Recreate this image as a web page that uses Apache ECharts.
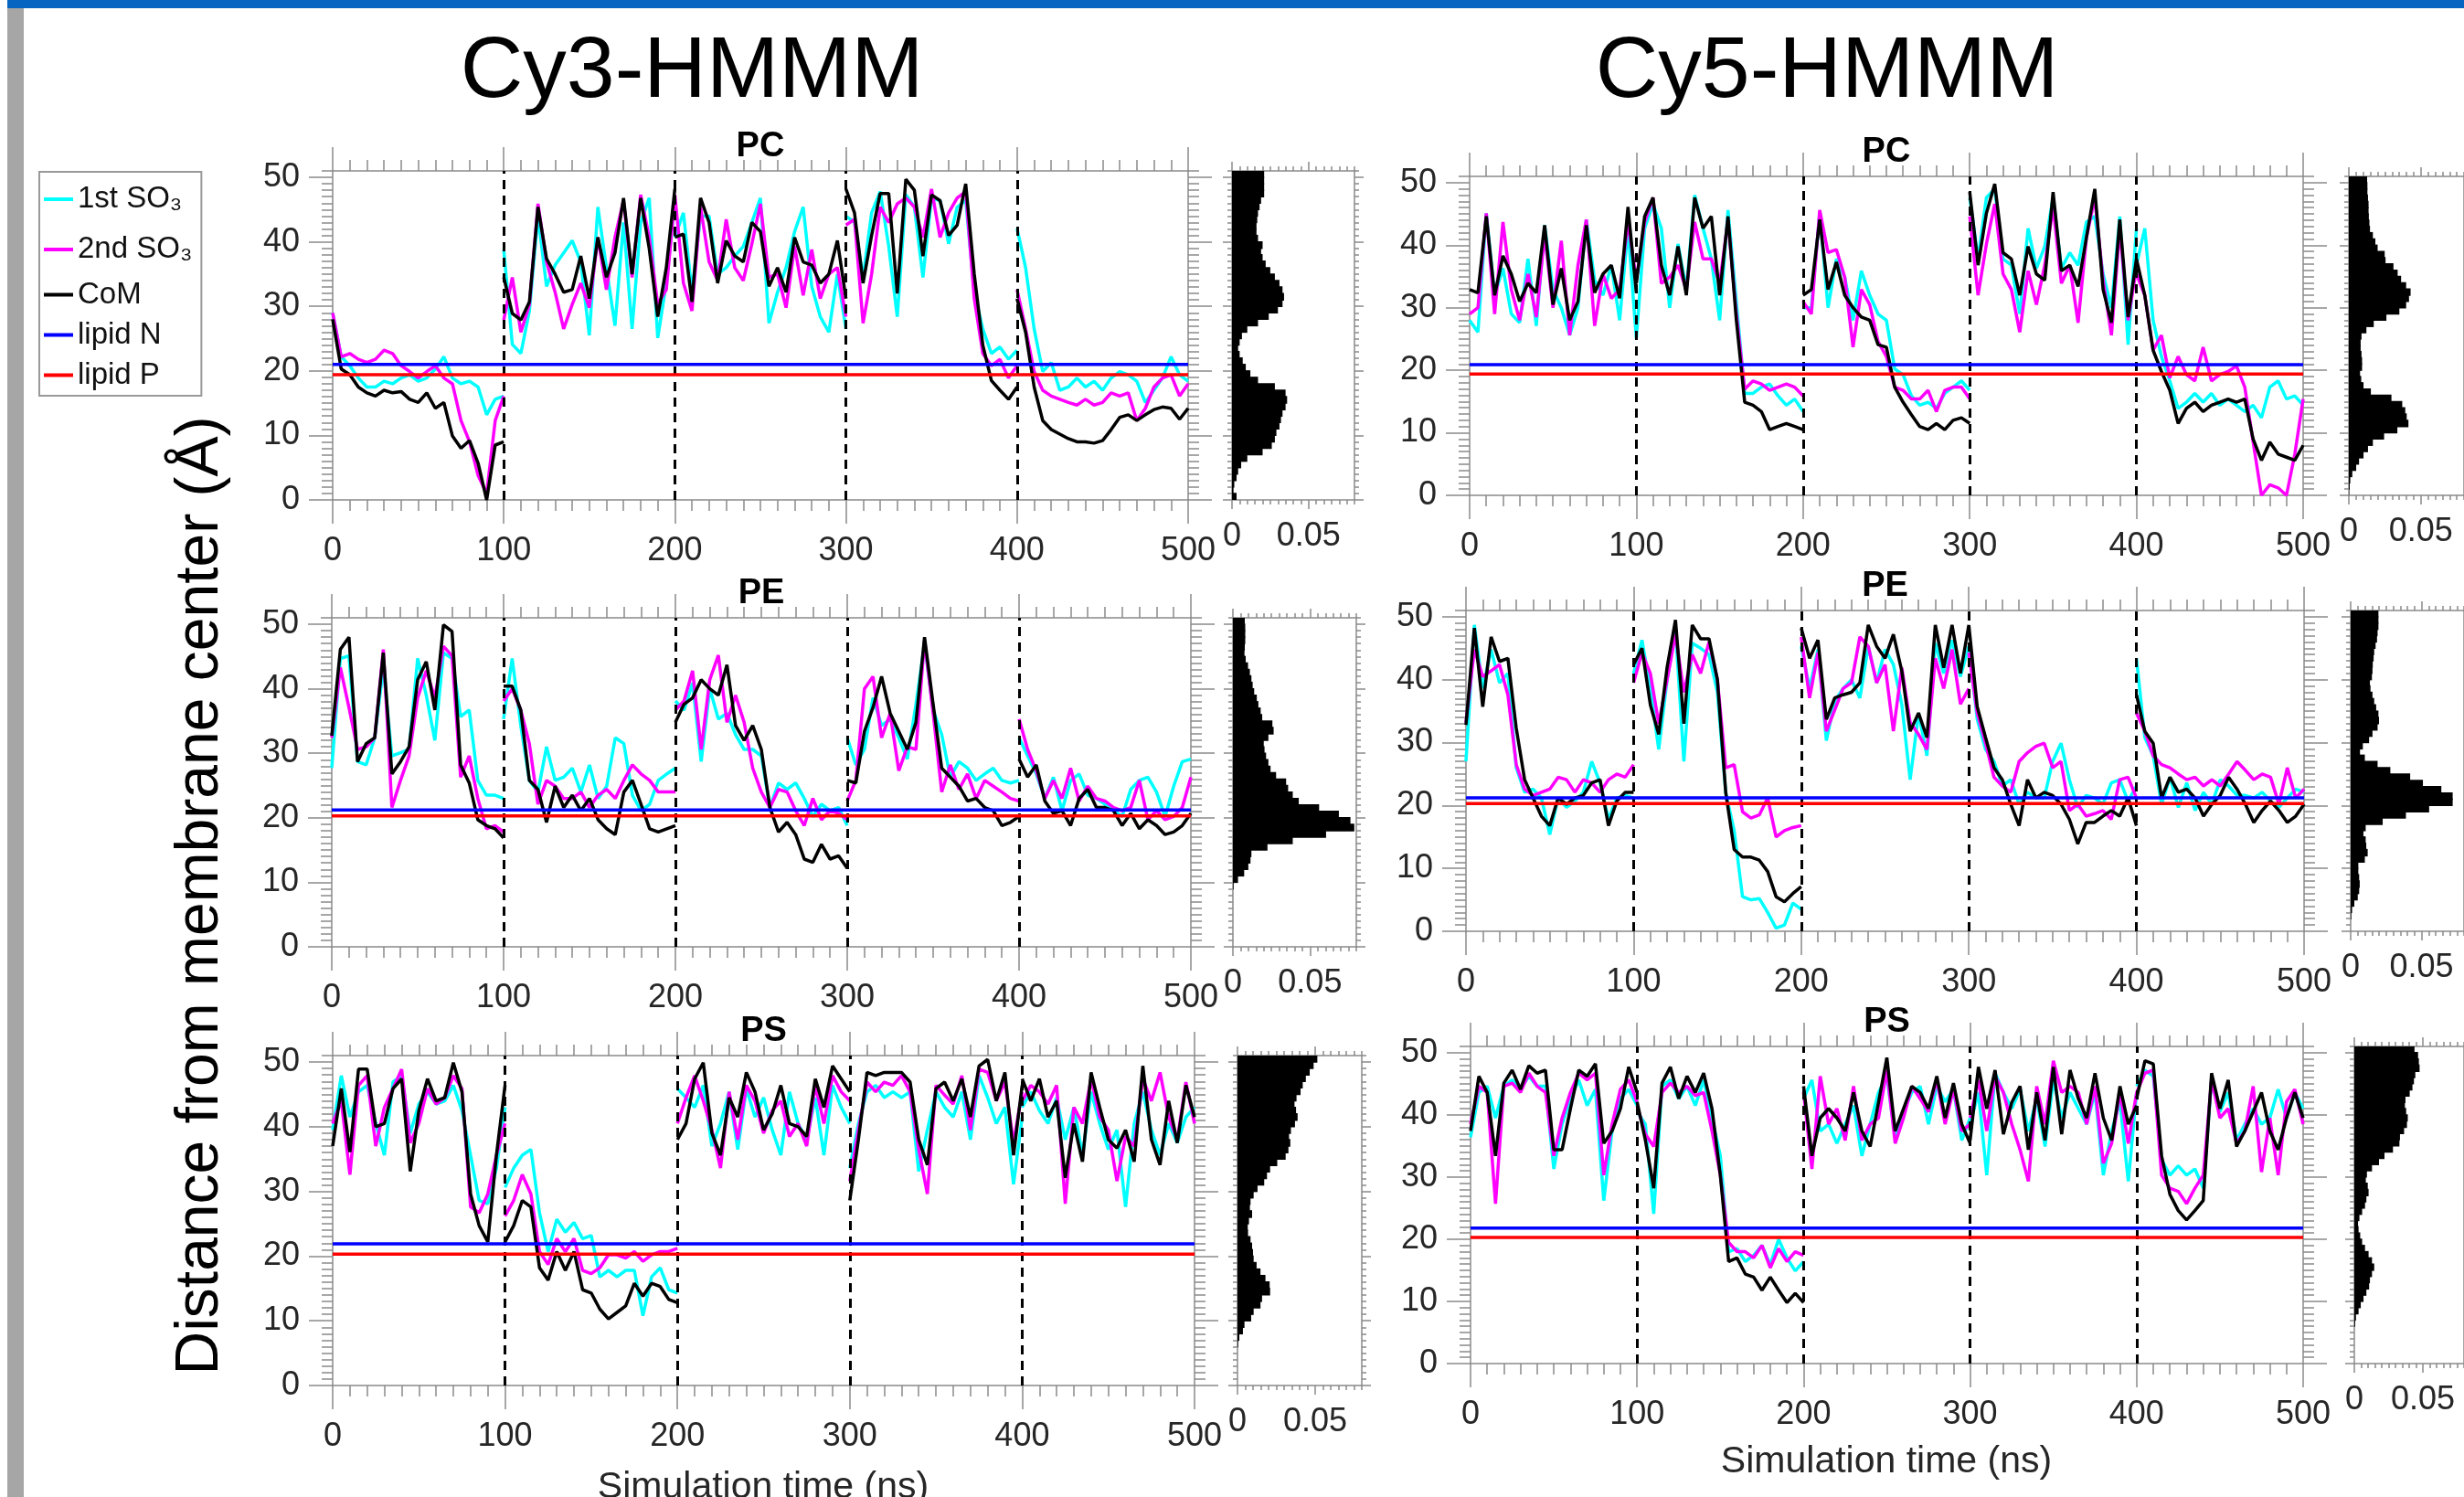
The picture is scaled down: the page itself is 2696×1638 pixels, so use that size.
<!DOCTYPE html>
<html>
<head>
<meta charset="utf-8">
<style>
html, body { margin: 0; padding: 0; background: #fff; }
#chart { width: 2696px; height: 1638px; }
</style>
</head>
<body>
<div id="chart"></div>
<script src="https://cdn.jsdelivr.net/npm/echarts@6/dist/echarts.min.js"></script>
<script>
// five 100 ns runs per membrane, values sampled every 5 ns (Å from membrane center)
var runStarts = [0, 100, 200, 300, 400];
var runStep = 5;
var runBreaks = [100, 200, 300, 400];
var seriesNames = ['1st SO₃', '2nd SO₃', 'CoM', 'lipid N', 'lipid P'];
var yTicks = [0, 10, 20, 30, 40, 50];
var histTicks = [0, 0.05];

// ---- Cy3-HMMM ----
var cy3PC_so1 = [
  [29,22.2,20.8,18.9,17.5,17.5,18.4,18,18.9,19.4,18.4,18.9,20.3,22.2,18.9,18,18.4,17.5,13.2,15.6,16.1],
  [38.8,24.1,22.7,29.3,44,33.1,36.4,38.3,40.2,36.9,25.5,45.4,36,27,43,26.5,43,46.8,25.1,33.6,46.4],
  [40.7,44.5,32.2,44,44,35,36,37.8,39.3,43,46.8,27.4,32.2,36,41.6,45.4,33.1,28.4,26,35,26.5],
  [44,43,34.5,44.5,47.8,39.3,28.4,47.3,45.4,34.5,46.8,46.4,39.7,45.4,46.4,32.2,26.5,22.7,23.7,21.8,23.2],
  [42.1,36,26.5,19.9,21.3,17,17.5,18.9,17.5,18.4,17,18.9,19.9,19.4,18.4,15.1,17,18.9,22.2,19.4,18.4]];
var cy3PC_so2 = [
  [29,22.2,22.7,21.8,21.3,21.8,23.2,22.7,20.8,19.9,18.9,19.9,20.8,18.9,18,12.3,9,3.8,1,12.3,16.1],
  [27.9,34.5,26,30.3,45.9,36.9,32.2,26.5,30.3,33.6,29.8,40.7,32.6,40.7,46.4,34.5,47.3,40.7,30.3,32.6,46.8],
  [47.3,33.6,29.3,45.4,36.9,34,43.5,36,34,39.7,45.9,34.5,35,29.8,39.3,31.7,38.8,31.2,35,36,28.4],
  [42.6,43.5,27.4,35,45.4,43,45.9,46.8,45.4,40.7,48.2,40.7,44.5,46.8,47.8,31.2,22.7,20.8,21.8,18.9,20.8],
  [32.6,26.5,19.9,17,16.1,15.6,15.1,14.7,15.6,14.7,15.1,16.6,16.1,16.6,12.3,14.2,17.5,18.9,19.4,16.1,18]];
var cy3PC_com = [
  [28,20.3,19.4,17.5,16.6,16.1,17,16.6,16.8,15.6,15.1,16.6,14.2,15.1,9.9,8,9.2,5.7,0,8.5,9],
  [34.5,28.9,27.9,30.7,45.4,37.4,35,32.2,32.6,37.8,31.2,40.7,34.5,38.3,46.8,35,46.8,39,28.4,36,48.2],
  [40.7,41.2,30.7,46.8,43,33.6,40.2,37.8,36.9,43,41.6,33.1,36,32.2,40.7,36.9,36.4,33.6,35,40.2,31.2],
  [48.2,44.5,33.6,41,47.5,47.5,32,49.7,48,37.8,47.3,46.4,41,42.6,49,35,24,18.5,17,15.6,17.5],
  [31.2,26,17.5,12.3,10.9,10.2,9.5,9,9,8.8,9.2,10.9,12.8,13.2,12.3,13.2,14,14.4,14.2,12.5,14.2]];

var cy3PE_so1 = [
  [27.7,44.7,45.1,28.7,28.2,32.4,43.3,29.6,30.1,30.6,44.7,39,32,45.6,44.7,35.7,36.7,25.8,23.5,23.5,23],
  [35.3,44.7,34.3,25.8,24,31,25.8,26.3,27.7,24,28.2,23,24.9,32.4,31.5,23.5,21.1,22.1,25.8,26.8,27.7],
  [38.1,36.7,40.9,28.7,40,35.3,36.2,32.9,30.6,30.6,29.6,21.6,25.4,24.4,25.4,23,20.2,22.1,21.1,21.6,18.8],
  [32.4,28.2,30.6,38.6,34.3,35.3,32.4,29.1,37.6,47,36.7,32.9,26.3,28.7,27.7,25.8,26.8,27.7,25.8,25.4,25.8],
  [32.4,29.6,26.8,23,26.3,21.1,25.8,26.8,23.5,23,22.1,21.1,20.2,24.4,25.8,26.3,24,20.2,24.9,28.7,29.1]];
var cy3PE_so2 = [
  [32.4,43.3,37.1,30.6,31,32.4,46.1,21.6,25.8,29.6,38.6,42.8,38.6,46.6,45.1,26.3,29.6,23,18.3,18.8,17.8],
  [38.1,40,36.7,31.5,22.1,25.8,24.9,23,23,24,21.6,23.5,24.4,23,25.8,28.2,26.8,25.8,24,24,24],
  [36.7,38.1,42.8,30.6,41.4,45.2,34.8,39,34.8,27.7,24,21.6,24.4,24,21.1,18.8,23,19.7,21.1,20.7,19.7],
  [22.6,25.8,40,41.9,32.4,36.2,27.3,31,30.6,47.5,36.2,24,28.2,24.4,26.8,23,25.8,24.9,24,23,22.6],
  [35.3,30.6,27.3,23,25.8,23,27.7,22.6,24.9,23,22.6,21.6,21.1,21.6,25.8,19.7,21.1,19.7,20.2,21.6,26.3]];
var cy3PE_com = [
  [32.7,46.1,48,28.7,31.5,32.4,45.6,26.8,28.7,31,41.4,44.2,36.7,49.9,48.9,28.2,25.4,19.7,18.8,18.3,16.9],
  [40.4,40.4,36.7,25.8,24.4,19.3,24.9,21.6,23.5,21.1,23,19.7,18.3,17.4,24,25.8,22.1,18.3,17.8,18.3,18.8],
  [34.8,37.6,38.6,41.4,40,39,43.7,34.3,32,34.3,30.6,21.6,17.8,19.3,17.4,13.6,13.1,15.9,13.6,14.1,12.2],
  [25.8,25.4,33.4,37.1,41.9,36.2,33.4,30.6,34.8,48,37.6,27.7,26.3,24.9,22.6,23,21.6,21.1,18.8,19.3,20.2],
  [29.1,26.3,28.2,22.6,20.7,21.1,18.8,23,24.4,21.6,21.6,21.1,18.8,20.7,18.3,19.7,18.8,17.4,17.8,18.8,20.7]];

var cy3PS_so1 = [
  [39.5,47.9,41.5,45.4,46.4,40.5,35.6,46.9,47.9,39,43.5,45.4,43.5,44,46.4,42.5,35.6,28.6,28.1,33.6,43],
  [30.6,33.6,35.6,36.5,26.7,20.7,25.7,23.7,25.2,22.7,23.2,16.8,17.8,16.8,17.8,17.8,10.8,16.8,18.2,14.8,14.3],
  [45.9,44.5,43,46.4,37,40.5,45.4,36.5,45.9,41.5,44.5,39.5,35.6,45.4,40.5,38,44.5,35.6,46.4,43,40.5],
  [33.6,40.5,45.4,46.4,44.5,45.4,44.5,45.4,33.1,39.5,45.4,43,41.5,45.4,38,47.9,44.5,40.5,43,31.1,41.5],
  [43,45.4,42.5,40.5,44.5,38,43,35.6,45.4,40.5,36.5,39.5,27.6,40.5,45.4,39.5,35.6,40.5,37.5,41.5,43]];
var cy3PS_so2 = [
  [40.5,44,32.6,46.4,47.9,37,43,45.9,48.9,37.5,40.5,45.9,43.5,44.5,47.9,45.9,27.6,26.7,29.6,35.6,40.5],
  [26.2,28.6,32.6,29.6,20.7,18.7,22.7,20.7,22.7,17.8,17.3,18.2,20.2,20.2,19.7,20.7,19.2,20.2,20.7,20.7,21.2],
  [40.5,44.5,47.9,44,39.5,33.6,45.4,38,46.4,44,39,42.5,44,38.5,40.5,37,46.4,40.5,47.9,45.4,44],
  [31.6,39.5,46.9,45.4,46.9,46.4,47.9,45.4,36.5,29.6,46.4,44.9,43.5,47.9,39.5,48.9,48.4,44,46.9,37.5,45.4],
  [44,46.4,45.4,43.5,46.4,28.1,43,40.5,47.4,41.5,39.5,31.6,38.5,37,47.4,44,48.4,41.5,38,46.9,40.5]];
var cy3PS_com = [
  [37,45.9,36.1,48.9,48.9,40,40.5,45.9,47.4,33.1,42.5,47.4,44,44.5,49.9,45.4,29.6,24.7,22.2,35.6,46.4],
  [22.2,24.7,28.6,27.6,18.2,16.3,20.7,17.8,20.7,14.8,14.3,11.8,10.3,11.3,12.3,15.8,13.8,15.8,15.3,13.3,12.8],
  [38,40.5,47.4,49.9,39,35.6,44.5,41.5,48.4,45.4,39.5,42,46.4,40.5,40,38.5,47.4,43,49.4,47.4,45.4],
  [28.6,38,48.4,47.9,48.4,48.4,48.4,46.9,38,34.1,45.9,46.9,44,47.4,41.5,49.4,50.4,44,48.4,35.6,46.4],
  [47.4,44,47.4,41.5,44,32.1,40.5,34.6,48.4,43,38,36.7,39.5,34.6,49.4,38,34.1,44,37.5,46.4,41.5]];

// ---- Cy5-HMMM ----
var cy5PC_so1 = [
  [28,26.1,45.1,32,36.3,29,27.6,37.8,27.1,43.2,32.9,30,25.6,30,44.1,34.4,32,36.8,28,42.7,25.1],
  [25.1,42.7,46.6,42.7,30,40.2,32.9,48,42.7,37.8,28,45.6,31,16.3,16.3,17.3,17.8,15.9,14.4,15.4,13.4],
  [30,30,45.1,30,37.8,34.9,28,35.9,32,29,28,20.2,19.3,15.9,14.4,14.9,13.9,16.3,17.3,18.3,16.8],
  [47.6,37.8,47.6,49,37.8,36.8,29,42.7,36.3,39.8,47.6,36.3,38.8,36.8,43.7,44.6,35.4,30,44.6,24.1,42.7],
  [36.8,42.7,28,22.2,18.3,13.9,14.9,16.3,14.9,16.3,14.4,15.4,14.4,13.4,14.4,12.4,17.3,18.3,15.4,15.9,14.4]];
var cy5PC_so2 = [
  [29,30,45.1,29,43.7,32.9,28,35.4,28.5,41.7,30,40.7,25.6,36.8,44.1,27.1,35.4,31.5,32.9,43.7,34.4],
  [34.4,43.7,47.6,33.9,34.9,36.8,32.9,43.7,37.8,37.8,33.9,44,29,17,18.3,17.8,16.8,17.3,17.8,17.3,15.9],
  [31,29,45.6,38.8,39.3,34.9,23.7,32.9,30.5,24.6,22.2,17.3,16.8,15.4,15.4,16.8,13.4,16.8,17.3,17.3,15.4],
  [44.6,32,40.2,46.6,35.4,32.9,26.1,35.9,30.5,36.8,46.1,33.9,36.8,27.6,41.2,47.6,34.4,25.6,42.7,28,36.3],
  [35.4,32,23.2,25.6,18.8,22.2,19.3,18.3,23.7,18.3,19.3,19.8,20.7,17.3,8.5,0,1.7,1.2,0,6.6,15.4]];
var cy5PC_com = [
  [32.9,32.4,44.6,32,38.3,35.4,31,33.9,32.4,43.2,30.5,36.3,28,31,43.2,32.4,35.4,36.8,31.5,46.1,32.4],
  [33.9,44.6,47.6,36.8,32,39.8,32,47.6,42.7,44.6,32,44.6,28,14.9,14.4,13.4,10.5,11,11.5,11,10.5],
  [32,32.9,44.1,32.9,37.3,32,30,28.5,28,24.1,23.7,17.3,14.9,12.9,11,10.5,11.5,10.5,12,12.4,11.5],
  [48.5,36.8,45.1,49.8,38.8,37.8,32,39.8,35.4,34.4,48.5,35.9,36.8,33.4,41.2,49,32.9,27.6,44.1,28.5,37.8],
  [37.8,32,23.2,19.8,16.8,11.5,13.9,14.9,13.4,14.4,14.9,15.4,14.9,15.4,9,5.6,8.5,6.6,6.1,5.6,8]];

var cy5PE_so1 = [
  [27,48.7,38.6,44.8,39.5,41,26,22.1,22.6,21.2,15.4,21.2,19.7,20.7,22.1,27,23.6,17.8,21.2,21.6,21.2],
  [41,46.3,38.6,28.9,40,48,27,45.8,45,44,38,22,16,5.5,5,5.2,3,0.5,1,4.5,3.5],
  [45.3,38.6,44.8,30.3,36.6,38.6,40,37.1,45.3,39.5,44.8,42.4,36.1,24.1,34.7,27.9,45.8,41,46.3,40.5,45.3],
  [45.3,33.7,28.9,27,23.1,24.1,20.2,22.1,21.2,21.2,27,29.9,24.1,19.7,21.6,21.2,20.2,23.6,24.1,20.7,23.1],
  [43.4,30.8,27.9,20.2,24.5,19.7,23.6,19.2,22.1,20.2,24.1,23.1,21.6,21.6,21.2,22.1,20.7,19.7,21.2,22.6,22.1]];
var cy5PE_so2 = [
  [33.2,44.8,40.5,41.4,42.4,37.6,26.5,22.6,21.6,22.1,22.6,24.5,24.1,22.1,24.1,23.6,22.1,24.1,25,24.5,26.5],
  [39.5,44.3,41,33,40,47.2,38,44,41,46,40,26,26.5,19,18,18.5,21.2,15,16,16.5,16.8],
  [46.8,37.1,44.3,31.8,35.2,38.6,39.5,46.8,45.3,39.5,42.4,31.8,41.9,33.2,31.3,28.9,43.4,38.6,44.8,36.1,38.6],
  [44.3,34.7,29.9,24.5,23.1,22.1,27,28.4,29.4,29.9,26,27,19.2,20.2,18.3,18.7,19.2,17.8,24.1,24.5,21.2],
  [34.7,31.8,27.9,26.5,26,25,24.1,24.5,23.1,24.1,23.1,25,27,25.6,24.1,25,24.5,20.2,26,21.2,22.6]];
var cy5PE_com = [
  [32.8,48.2,35.7,46.8,42.9,43.4,32.3,24.1,21.2,18.3,16.8,21.2,20.2,21.2,21.6,23.6,24.1,16.8,20.7,22.1,22.1],
  [42.4,45,36,31.3,42,49.5,33,48.7,46.5,46.5,40,22,13,11.8,11.8,11.3,9.5,5.5,4.7,6,7.1],
  [48.2,43.4,46.3,33.7,37.1,37.6,38,39.5,48.7,45.3,43.4,47.2,41.4,31.8,34.7,30.8,48.7,41.9,48.7,41,48.7],
  [48.7,35.7,30.8,26,24.1,20.2,16.8,24.1,21.2,22.1,21.6,20.2,17.8,13.9,17.3,17.3,18.3,19.2,18.3,21.2,16.8],
  [37.6,31.8,29.9,21.2,24.5,22.1,22.6,21.2,18.3,20.2,21.6,24.5,22.6,20.2,17.3,19.2,20.7,19.2,17.3,18.3,20.2]];

var cy5PS_so1 = [
  [36.4,43.6,44.6,39.5,44.6,45.6,44.1,46.2,44.6,44.6,31.3,38.5,42.6,45.6,41.5,44.1,26.2,37.4,42.6,44.1,41.5],
  [40.5,38.5,24.1,44.6,45.6,42.6,44.6,41.5,45.6,39.5,33.4,18,18.5,16.4,17.4,19,15.9,20,17,14.9,16.4],
  [42.6,45.6,37.4,38.5,35.4,38.5,41.5,33.4,38.5,43.6,46.2,36.4,40.5,43.6,44.6,38.5,44.6,42.1,44.1,35.9,39.5],
  [38.5,43.6,30.3,46.7,43.6,41,44.1,37.4,42.6,34.9,45.6,39.5,43.6,41,38.5,43.6,30.3,37.4,42.1,29.3,43.6],
  [44.6,47.2,46.2,32.8,30.3,31.8,30.3,31.3,28.2,45.6,40.5,43.6,35.9,38.5,41,38.5,39.5,44.1,39.5,43.6,41]];
var cy5PS_so2 = [
  [38.5,44.6,43.6,25.7,44.6,45.1,43.6,46.7,44.6,43.6,33.4,39.5,43.6,46.7,45.6,46.7,30.3,38.5,44.1,45.6,42.1],
  [41.5,36.9,34.9,43.6,45.1,43.6,44.6,43.1,43.6,37.4,30.3,19.5,18,18,17,19,15.4,18.5,16.4,18,17.4],
  [43.6,31.3,46.2,38.5,41,35.9,44.6,35.9,38.5,39.5,47.2,35.4,39.5,44.6,42.6,40.5,45.6,38.5,44.1,37.4,38.5],
  [39.5,45.6,37.4,46.2,43.6,38.5,34.4,29.3,44.6,38.5,48.7,43.6,44.6,43.6,38.5,44.6,32.2,35.4,43.6,35.4,43.6],
  [43.6,46.7,47.2,30.3,28.2,27.7,25.7,28.2,30.3,45.6,39.5,41,35.4,37.4,44.6,30.8,39.5,30.3,42.1,44.1,38.5]];
var cy5PS_com = [
  [37.4,46.2,43.6,33.4,45.1,47.2,44.1,47.9,46.7,47.2,34.4,34.4,41,47.2,46.2,48.2,35.4,37.4,41,47.7,43.6],
  [42.1,35.9,28.2,45.1,47.7,42.6,46.2,43.6,46.7,41,30.3,16.4,17,14.4,13.9,11.8,13.9,11.8,9.8,11.3,9.8],
  [44.6,33.4,39.5,41,39.5,37.4,43.6,37.4,34.9,42,49.2,37.4,41,44.6,43.6,41,46.2,39.5,45.1,38.5,35.4],
  [35.9,47.7,41,47.2,36.9,42,44.6,34.4,43.6,35.9,47.7,36.9,47.2,42.6,39.5,46.7,39.5,35.9,44.6,38.5,41.5],
  [42.6,48.7,48.2,33.4,27.2,24.6,23.1,24.6,26.2,46.7,41,45.6,34.9,37.4,40.5,43.6,37.4,34.4,39.5,43.6,39.5]];

// lipid headgroup positions, order: Cy3 PC, PE, PS, Cy5 PC, PE, PS
var lipidN = [21.0, 21.2, 21.9, 20.9, 21.2, 21.8];
var lipidP = [19.4, 20.3, 20.3, 19.4, 20.3, 20.3];

// CoM histograms, 1 Å bins from 0 to 51
var cy3PC_hist = [0.003,0.001,0.0015,0.003,0.004,0.006,0.010,0.020,0.026,0.028,0.029,0.031,0.032,0.033,0.035,0.036,0.035,0.028,0.017,0.012,0.009,0.007,0.005,0.004,0.005,0.0065,0.010,0.017,0.024,0.030,0.033,0.034,0.033,0.031,0.028,0.025,0.022,0.020,0.019,0.020,0.017,0.016,0.016,0.0165,0.017,0.018,0.019,0.021,0.021,0.021,0.021];
var cy3PE_hist = [0,0,0,0,0,0,0,0,0,0.0004,0.0033,0.0073,0.010,0.0114,0.012,0.0224,0.0388,0.0604,0.0787,0.0762,0.0687,0.0559,0.0427,0.0388,0.0358,0.0345,0.028,0.0244,0.023,0.0215,0.0205,0.020,0.023,0.0264,0.0256,0.019,0.018,0.0165,0.0155,0.0138,0.0128,0.012,0.011,0.0098,0.0083,0.0075,0.0077,0.008,0.008,0.008,0.0077];
var cy3PS_hist = [0,0,0,0,0,0,0.0004,0.0012,0.0035,0.0045,0.0088,0.0104,0.0148,0.0158,0.021,0.0207,0.018,0.0148,0.0123,0.0104,0.010,0.0094,0.0084,0.0068,0.0066,0.0074,0.0094,0.008,0.0084,0.0104,0.0129,0.0172,0.019,0.021,0.0256,0.031,0.0328,0.034,0.0332,0.0344,0.037,0.0387,0.0377,0.0367,0.038,0.0406,0.042,0.044,0.0465,0.049,0.0514];
var cy5PC_hist = [0.0002,0.0006,0.001,0.0024,0.0051,0.0071,0.0102,0.0133,0.0167,0.0245,0.0337,0.0414,0.0402,0.0392,0.0371,0.0296,0.0153,0.0102,0.0086,0.0078,0.0092,0.0092,0.0088,0.0082,0.0082,0.0088,0.0122,0.0173,0.0261,0.0351,0.0398,0.0418,0.0429,0.0398,0.0363,0.0339,0.031,0.0255,0.0249,0.020,0.0184,0.0167,0.0147,0.0143,0.0139,0.0137,0.0137,0.0133,0.0129,0.0129,0.0127];
var cy5PE_hist = [0,0,0.0004,0.001,0.0026,0.005,0.006,0.0064,0.006,0.0054,0.0054,0.01,0.012,0.011,0.0106,0.009,0.0106,0.0226,0.039,0.0554,0.072,0.072,0.064,0.051,0.042,0.028,0.019,0.01,0.0066,0.0086,0.013,0.0154,0.019,0.02,0.0196,0.018,0.0166,0.0154,0.014,0.0136,0.015,0.0154,0.0156,0.0162,0.0166,0.0176,0.0186,0.019,0.0196,0.0196,0.0196];
var cy5PS_hist = [0,0,0,0,0,0,0.0006,0.0012,0.0031,0.0047,0.0067,0.0088,0.0108,0.0114,0.0129,0.0145,0.0129,0.0104,0.0078,0.0057,0.0043,0.0031,0.0027,0.0037,0.0057,0.0078,0.0088,0.0104,0.0098,0.0084,0.0092,0.0129,0.018,0.022,0.0282,0.0329,0.0333,0.0363,0.0384,0.039,0.0378,0.0369,0.0373,0.0404,0.0424,0.0435,0.0445,0.0476,0.0471,0.0465,0.0439];

var binLabels = cy3PC_hist.map(function (v, i) { return String(i); });

// layout: [left, top, width, height] in px
var panels = [
  {title: 'PC', lines: [cy3PC_so1, cy3PC_so2, cy3PC_com], hist: cy3PC_hist, k: 0, box: [364, 187, 936, 360], hbox: [1348, 187, 134, 360]},
  {title: 'PE', lines: [cy3PE_so1, cy3PE_so2, cy3PE_com], hist: cy3PE_hist, k: 1, box: [363, 676, 940, 360], hbox: [1349, 676, 135, 360]},
  {title: 'PS', lines: [cy3PS_so1, cy3PS_so2, cy3PS_com], hist: cy3PS_hist, k: 2, box: [364, 1155, 943, 361], hbox: [1354, 1155, 136, 361]},
  {title: 'PC', lines: [cy5PC_so1, cy5PC_so2, cy5PC_com], hist: cy5PC_hist, k: 3, box: [1608, 193, 912, 349], hbox: [2570, 193, 131, 349]},
  {title: 'PE', lines: [cy5PE_so1, cy5PE_so2, cy5PE_com], hist: cy5PE_hist, k: 4, box: [1604, 668, 917, 351], hbox: [2572, 668, 131, 351]},
  {title: 'PS', lines: [cy5PS_so1, cy5PS_so2, cy5PS_com], hist: cy5PS_hist, k: 5, box: [1609, 1145, 911, 347], hbox: [2576, 1145, 131, 347]}
];

var FONT = '"Liberation Sans", Arial, Helvetica, sans-serif';
var AXC = '#8a8a8a';
var TXT = '#262626';
var lineColors = ['#00ffff', '#ff00ff', '#000000', '#0000ff', '#ff0000'];
var yTop = 51, xEnd = 500, histMax = 0.08;
var axLine = {color: AXC, width: 1.5};

var grids = [], xAxes = [], yAxes = [], series = [], texts = [];

function runData(runs) {
  var out = [];
  runs.forEach(function (run, r) {
    run.forEach(function (v, i) { out.push([runStarts[r] + i * runStep, v]); });
    out.push([runStarts[r] + 100, '-']);
  });
  return out;
}

function yPair(gi, pos, majorLen, minorLen, labels) {
  yAxes.push({
    type: 'value', gridIndex: gi, position: pos, min: 0, max: yTop,
    axisLine: {show: true, onZero: false, lineStyle: axLine},
    axisTick: {show: true, length: majorLen, customValues: yTicks, lineStyle: axLine},
    axisLabel: {show: labels, customValues: yTicks, margin: 36, fontSize: 36, color: TXT, fontFamily: FONT,
      formatter: function (v) { return v % 10 === 0 ? String(v) : ''; }},
    splitLine: {show: false}
  });
  yAxes.push({
    type: 'value', gridIndex: gi, position: pos, min: 0, max: yTop, interval: 1,
    axisLine: {show: false, onZero: false}, axisLabel: {show: false}, splitLine: {show: false},
    axisTick: {show: true, length: minorLen, lineStyle: axLine}
  });
}

function addLinePanel(p) {
  var gi = grids.length;
  grids.push({left: p.box[0], top: p.box[1], width: p.box[2], height: p.box[3]});
  var xi = xAxes.length;
  ['bottom', 'top'].forEach(function (pos) {
    xAxes.push({
      type: 'value', gridIndex: gi, position: pos, min: 0, max: xEnd, interval: 100,
      axisLine: {show: true, onZero: false, lineStyle: axLine},
      axisTick: {show: true, length: 26, lineStyle: axLine},
      minorTick: {show: true, splitNumber: 10, length: 12, lineStyle: axLine},
      axisLabel: {show: pos === 'bottom', margin: 38, fontSize: 36, color: TXT, fontFamily: FONT},
      splitLine: {show: false}
    });
  });
  var yi = yAxes.length;
  yPair(gi, 'left', 26, 12, true);
  yPair(gi, 'right', 26, 12, false);

  p.lines.forEach(function (runs, s) {
    series.push({
      type: 'line', name: seriesNames[s], xAxisIndex: xi, yAxisIndex: yi,
      data: runData(runs), showSymbol: false, symbol: 'none', connectNulls: false,
      lineStyle: {width: 3.5, color: lineColors[s]}, itemStyle: {color: lineColors[s]},
      z: 3 + s
    });
  });
  [lipidN[p.k], lipidP[p.k]].forEach(function (v, j) {
    series.push({
      type: 'line', name: seriesNames[3 + j], xAxisIndex: xi, yAxisIndex: yi,
      data: [[0, v], [xEnd, v]], showSymbol: false, symbol: 'none',
      lineStyle: {width: 3.5, color: lineColors[3 + j]}, itemStyle: {color: lineColors[3 + j]},
      z: 7,
      markLine: j === 0 ? {
        silent: true, symbol: 'none', label: {show: false},
        lineStyle: {type: [10, 7], width: 3, color: '#000'},
        data: runBreaks.map(function (b) { return {xAxis: b}; })
      } : undefined
    });
  });

  texts.push({
    type: 'text', x: p.box[0] + p.box[2] / 2, y: p.box[1] - 26,
    style: {text: p.title, fontSize: 38, fontWeight: 'bold', fontFamily: FONT, fill: '#000',
      align: 'center', verticalAlign: 'middle'}
  });
}

function addHistPanel(p) {
  var gi = grids.length;
  grids.push({left: p.hbox[0], top: p.hbox[1], width: p.hbox[2], height: p.hbox[3]});
  var xi = xAxes.length;
  ['bottom', 'top'].forEach(function (pos) {
    xAxes.push({
      type: 'value', gridIndex: gi, position: pos, min: 0, max: histMax, interval: 0.05,
      axisLine: {show: true, onZero: false, lineStyle: axLine},
      axisTick: {show: true, length: 10, customValues: histTicks, lineStyle: axLine},
      axisLabel: {show: pos === 'bottom', customValues: histTicks, margin: 22, fontSize: 36, color: TXT, fontFamily: FONT,
        formatter: function (v) { return histTicks.indexOf(v) >= 0 ? String(v) : ''; }},
      splitLine: {show: false}
    });
    xAxes.push({
      type: 'value', gridIndex: gi, position: pos, min: 0, max: histMax, interval: 0.005,
      axisLine: {show: false, onZero: false}, axisLabel: {show: false}, splitLine: {show: false},
      axisTick: {show: true, length: 5, lineStyle: axLine}
    });
  });
  var yc = yAxes.length;
  yAxes.push({type: 'category', gridIndex: gi, data: binLabels, show: false, axisLine: {onZero: false}});
  yPair(gi, 'left', 10, 5, false);
  yPair(gi, 'right', 10, 5, false);
  series.push({
    type: 'bar', name: 'CoM distribution', xAxisIndex: xi, yAxisIndex: yc,
    data: p.hist, barWidth: '120%',
    itemStyle: {color: '#000'}, silent: true
  });
}

panels.forEach(function (p) { addLinePanel(p); addHistPanel(p); });

var chart = echarts.init(document.getElementById('chart'));
chart.setOption({
  animation: false,
  backgroundColor: '#ffffff',
  textStyle: {fontFamily: FONT},
  grid: grids,
  xAxis: xAxes,
  yAxis: yAxes,
  legend: {
    orient: 'vertical', left: 43, top: 188, padding: [8, 10, 6, 5], itemGap: 11,
    itemWidth: 32, itemHeight: 4, borderColor: '#999', borderWidth: 2,
    textStyle: {fontSize: 33, color: '#111', fontFamily: FONT, lineHeight: 32},
    data: seriesNames.map(function (n, i) {
      return {name: n, icon: 'rect', textStyle: {lineHeight: i < 2 ? 44 : 32}};
    })
  },
  series: series,
  graphic: {elements: [
    {type: 'rect', shape: {x: 8, y: 0, width: 2688, height: 9}, style: {fill: '#0565c0'}},
    {type: 'rect', shape: {x: 8, y: 9, width: 18, height: 1629}, style: {fill: '#a6a6a6'}},
    {type: 'text', x: 757, y: 80, style: {text: 'Cy3-HMMM', fontSize: 95, fontFamily: FONT, fill: '#000', align: 'center', verticalAlign: 'middle'}},
    {type: 'text', x: 1999, y: 80, style: {text: 'Cy5-HMMM', fontSize: 95, fontFamily: FONT, fill: '#000', align: 'center', verticalAlign: 'middle'}},
    {type: 'text', x: 220, y: 980, rotation: Math.PI / 2, style: {text: 'Distance from membrane center (Å)', fontSize: 66, fontFamily: FONT, fill: '#000', align: 'center', verticalAlign: 'middle'}},
    {type: 'text', x: 835, y: 1628, style: {text: 'Simulation time (ns)', fontSize: 41, fontFamily: FONT, fill: TXT, align: 'center', verticalAlign: 'middle'}},
    {type: 'text', x: 2064, y: 1600, style: {text: 'Simulation time (ns)', fontSize: 41, fontFamily: FONT, fill: TXT, align: 'center', verticalAlign: 'middle'}}
  ].concat(texts)}
});
</script>
</body>
</html>
